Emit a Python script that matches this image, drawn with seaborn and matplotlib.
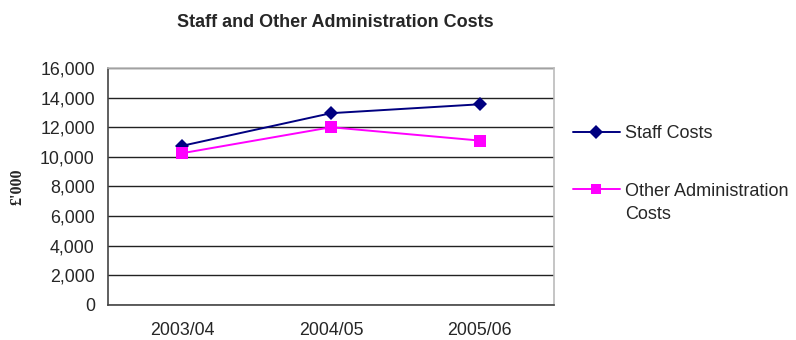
import pandas as pd
import seaborn as sns
import matplotlib.pyplot as plt

years = ['2003/04', '2004/05', '2005/06']
staff_costs = [10750, 12950, 13550]
other_admin_costs = [10250, 12000, 11100]
series_names = ['Staff Costs', 'Other Administration Costs']

sns.set_style('white')
plt.rcParams['font.family'] = ['Liberation Sans', 'DejaVu Sans']

df = pd.DataFrame({
    'Year': years * 2,
    'Cost': staff_costs + other_admin_costs,
    'Series': [series_names[0]] * 3 + [series_names[1]] * 3,
})

fig = plt.figure(figsize=(7.96, 3.40), dpi=100)
ax = fig.add_axes([0.1357, 0.103, 0.5603, 0.697])

sns.lineplot(data=df, x='Year', y='Cost', hue='Series', style='Series',
             palette=['#000080', '#FF00FF'], markers=['D', 's'], dashes=False,
             markersize=7, markeredgewidth=0, linewidth=1.4, ax=ax)
# square marker a bit bigger, like the original
ax.lines[1].set_markersize(9)

ax.set_xlim(-0.5, 2.5)
ax.set_ylim(0, 16000)
ax.set_yticks(range(0, 16001, 2000))
ax.set_yticklabels([f'{v:,}' for v in range(0, 16001, 2000)], fontsize=12.8)
ax.set_xticks([0, 1, 2])
ax.set_xticklabels(years, fontsize=12.8)
ax.set_xticks([-0.5, 0.5, 1.5, 2.5], minor=True)
ax.tick_params(axis='x', which='major', length=0, pad=12)
ax.tick_params(axis='x', which='minor', length=4.5, width=1, color='#333333', direction='out')
ax.tick_params(axis='y', length=5, width=1, color='#333333', direction='out', pad=4.5)
ax.yaxis.grid(True, color='#222222', linewidth=1)
ax.set_axisbelow(True)

for side in ['left', 'bottom']:
    ax.spines[side].set_color('#444444')
    ax.spines[side].set_linewidth(1.2)
for side in ['top', 'right']:
    ax.spines[side].set_color('#BBBBBB')
    ax.spines[side].set_linewidth(1.2)

ax.set_xlabel('')
ax.set_ylabel("£'000", family='Liberation Serif', fontweight='bold', fontsize=11.5)
ax.yaxis.set_label_coords(-0.185, 0.5)
fig.text(0.4217, 0.935, 'Staff and Other Administration Costs', ha='center', va='center',
         fontsize=13, fontweight='bold')

handles, _ = ax.get_legend_handles_labels()
leg = ax.legend(handles, ['Staff Costs', 'Other Administration'],
                loc='upper left', bbox_to_anchor=(0.7195, 0.632), bbox_transform=fig.transFigure,
                frameon=False, fontsize=13, markerscale=0.95, borderpad=0, borderaxespad=0,
                handlelength=2.6, labelspacing=2.25, handletextpad=0.32)
# second line of the legend label, handle stays level with the first line
ax.annotate('Costs', xy=(0, 0.5), xycoords=leg.get_texts()[1], xytext=(0, -16.6),
            textcoords='offset points', ha='left', va='center', fontsize=13,
            zorder=6, annotation_clip=False)

fig.savefig('out.png', dpi=100)
